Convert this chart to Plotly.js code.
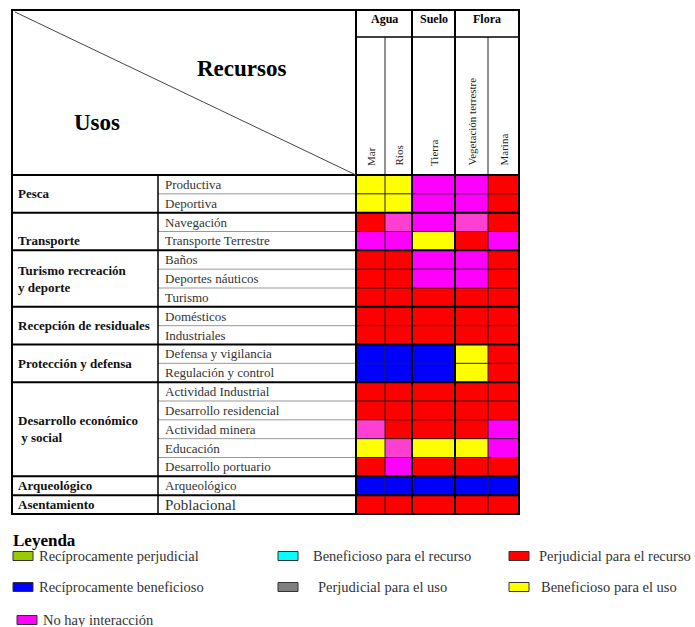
<!DOCTYPE html>
<html>
<head>
<meta charset="utf-8">
<script src="https://cdn.plot.ly/plotly-3.0.1.min.js"></script>
<style>html,body{margin:0;padding:0;background:#fff;}</style>
</head>
<body>
<div id="chart" style="width:695px;height:627px;"></div>
<script>
// ---------- DATA ----------
const categories = ['Pesca', 'Transporte', 'Turismo recreación<br>y deporte', 'Recepción de residuales',
  'Protección y defensa', 'Desarrollo económico<br> y social', 'Arqueológico', 'Asentamiento'];
const groupSizes = [2, 2, 3, 2, 2, 5, 1, 1];
const subcategories = ['Productiva', 'Deportiva', 'Navegación', 'Transporte Terrestre', 'Baños',
  'Deportes náuticos', 'Turismo', 'Domésticos', 'Industriales', 'Defensa y vigilancia',
  'Regulación y control', 'Actividad Industrial', 'Desarrollo residencial', 'Actividad minera',
  'Educación', 'Desarrollo portuario', 'Arqueológico', 'Poblacional'];
const resourceGroups = ['Agua', 'Suelo', 'Flora'];
const resourceGroupSpans = [2, 1, 2];
const resources = ['Mar', 'Ríos', 'Tierra', 'Vegetación terrestre', 'Marina'];
// Codes: R perjudicial recurso, B recíprocamente beneficioso, Y beneficioso uso,
//        M no hay interacción, P no hay interacción (tono rosado)
const mar        = ['Y','Y','R','M','R','R','R','R','R','B','B','R','R','P','Y','R','B','R'];
const rios       = ['Y','Y','P','M','R','R','R','R','R','B','B','R','R','R','P','M','B','R'];
const tierra     = ['M','M','M','Y','M','M','R','R','R','B','B','R','R','R','Y','R','B','R'];
const vegetacion = ['M','M','P','R','M','M','R','R','R','Y','Y','R','R','R','Y','R','B','R'];
const marina     = ['R','R','R','M','R','R','R','R','R','R','R','R','R','M','M','R','B','R'];
const legendLabels = ['Recíprocamente perjudicial', 'Beneficioso para el recurso', 'Perjudicial para el recurso',
  'Recíprocamente beneficioso', 'Perjudicial para el uso', 'Beneficioso para el uso', 'No hay interacción'];

// ---------- STYLE / LAYOUT ----------
const codeOrder = ['G','C','R','B','K','Y','M','P'];
const codeColors = ['#99CC00','#00FFFF','#FF0000','#0000FF','#808080','#FFFF00','#FF00FF','#FF3FD2'];
const legendColors = ['#99CC00','#00FFFF','#FF0000','#0000FF','#808080','#FFFF00','#FF00FF'];
const SERIF = '"Liberation Serif", "DejaVu Serif", serif';
const L = 12, T = 10, R = 519, catRight = 158, subRight = 356;
const colEdges = [356, 385, 412, 455, 488, 519];
const headRow = 37, headBottom = 175, tableBottom = 514;
const nRows = subcategories.length;
const rowH = (tableBottom - headBottom) / nRows;
const rowEdges = Array.from({length: nRows + 1}, (_, i) => headBottom + i * rowH);

const columns = [mar, rios, tierra, vegetacion, marina];
const z = subcategories.map((_, r) => columns.map(col => codeOrder.indexOf(col[r])));
const n = codeColors.length;
const colorscale = [];
codeColors.forEach((c, i) => { colorscale.push([i / n, c]); colorscale.push([(i + 1) / n, c]); });

const heat = {
  type: 'heatmap', x: colEdges, y: rowEdges, z: z,
  colorscale: colorscale, zmin: -0.5, zmax: n - 0.5,
  showscale: false, hoverinfo: 'skip'
};

const shapes = [];
const line = (x0, y0, x1, y1, w, c) => shapes.push({type: 'line', xref: 'x', yref: 'y', x0, y0, x1, y1,
  line: {color: c || '#000', width: w}});
const annotations = [];
const ann = (text, x, y, opts) => annotations.push(Object.assign({text, x, y, xref: 'x', yref: 'y',
  showarrow: false, font: {family: SERIF, size: 12, color: '#222'}}, opts));

// Row lines
let groupStart = [];
let acc = 0;
groupSizes.forEach(s => { groupStart.push(acc); acc += s; });
for (let i = 1; i < nRows; i++) {
  const y = rowEdges[i];
  if (groupStart.includes(i)) line(L, y, R, y, 2);
  else { line(catRight, y, subRight, y, 1, '#999'); line(subRight, y, R, y, 1, '#222'); }
}
// Column lines in cell area
colEdges.forEach((x, i) => {
  const thick = (i === 0 || i === 2 || i === 3 || i === 5);
  line(x, thick ? T : headRow, x, tableBottom, thick ? 2 : 1, thick ? '#000' : '#222');
});
line(subRight, headRow, R, headRow, 1.5);
line(L, headBottom, R, headBottom, 2);
line(catRight, headBottom, catRight, tableBottom, 1.5);
line(15, 12, subRight, headBottom, 1, '#444');
shapes.push({type: 'rect', xref: 'x', yref: 'y', x0: L, y0: T, x1: R, y1: tableBottom, line: {color: '#000', width: 2}});

// Header texts
ann('<b>Recursos</b>', 241, 68, {font: {family: SERIF, size: 23, color: '#000'}});
ann('<b>Usos</b>', 97, 122, {font: {family: SERIF, size: 23, color: '#000'}});
let ci = 0;
resourceGroups.forEach((g, i) => {
  const x0 = colEdges[ci], x1 = colEdges[ci + resourceGroupSpans[i]];
  ann('<b>' + g + '</b>', (x0 + x1) / 2, 19, {font: {family: SERIF, size: 12, color: '#000'}});
  ci += resourceGroupSpans[i];
});
resources.forEach((r, i) => {
  ann(r, (colEdges[i] + colEdges[i + 1]) / 2, 168, {textangle: -90, yanchor: 'bottom',
    font: {family: SERIF, size: 11, color: '#222'}});
});
// Row labels
categories.forEach((c, i) => {
  const s = groupStart[i], e = s + groupSizes[i];
  let y = (rowEdges[s] + rowEdges[e]) / 2;
  if (c === 'Transporte') y = (rowEdges[s + 1] + rowEdges[e]) / 2;
  ann('<b>' + c + '</b>', 16, y, {xanchor: 'left', align: 'left', font: {family: SERIF, size: 13, color: '#111'}});
});
subcategories.forEach((s, i) => {
  ann(s, 163, (rowEdges[i] + rowEdges[i + 1]) / 2, {xanchor: 'left',
    font: {family: SERIF, size: i === nRows - 1 ? 15 : 13, color: '#333'}});
});

// Legend
ann('<b>Leyenda</b>', 11, 540, {xanchor: 'left', font: {family: SERIF, size: 17, color: '#000'}});
const legPos = [[13, 556, 37], [278, 556, 311], [509, 556, 537], [13, 587, 37], [278, 587, 316], [509, 587, 539], [17, 620, 41]];
legendLabels.forEach((lab, i) => {
  const [sx, y, tx] = legPos[i];
  shapes.push({type: 'rect', xref: 'x', yref: 'y', x0: sx, y0: y - 4.5, x1: sx + 20, y1: y + 4.5,
    fillcolor: legendColors[i], line: {color: '#333', width: 1}});
  ann(lab, tx, y, {xanchor: 'left', font: {family: SERIF, size: 14.5, color: '#333'}});
});

const layout = {
  width: 695, height: 627, margin: {l: 0, r: 0, t: 0, b: 0},
  paper_bgcolor: '#fff', plot_bgcolor: '#fff',
  xaxis: {range: [0, 695], visible: false, fixedrange: true},
  yaxis: {range: [627, 0], visible: false, fixedrange: true},
  shapes, annotations, showlegend: false
};
Plotly.newPlot('chart', [heat], layout, {displayModeBar: false, staticPlot: true});
</script>
</body>
</html>
